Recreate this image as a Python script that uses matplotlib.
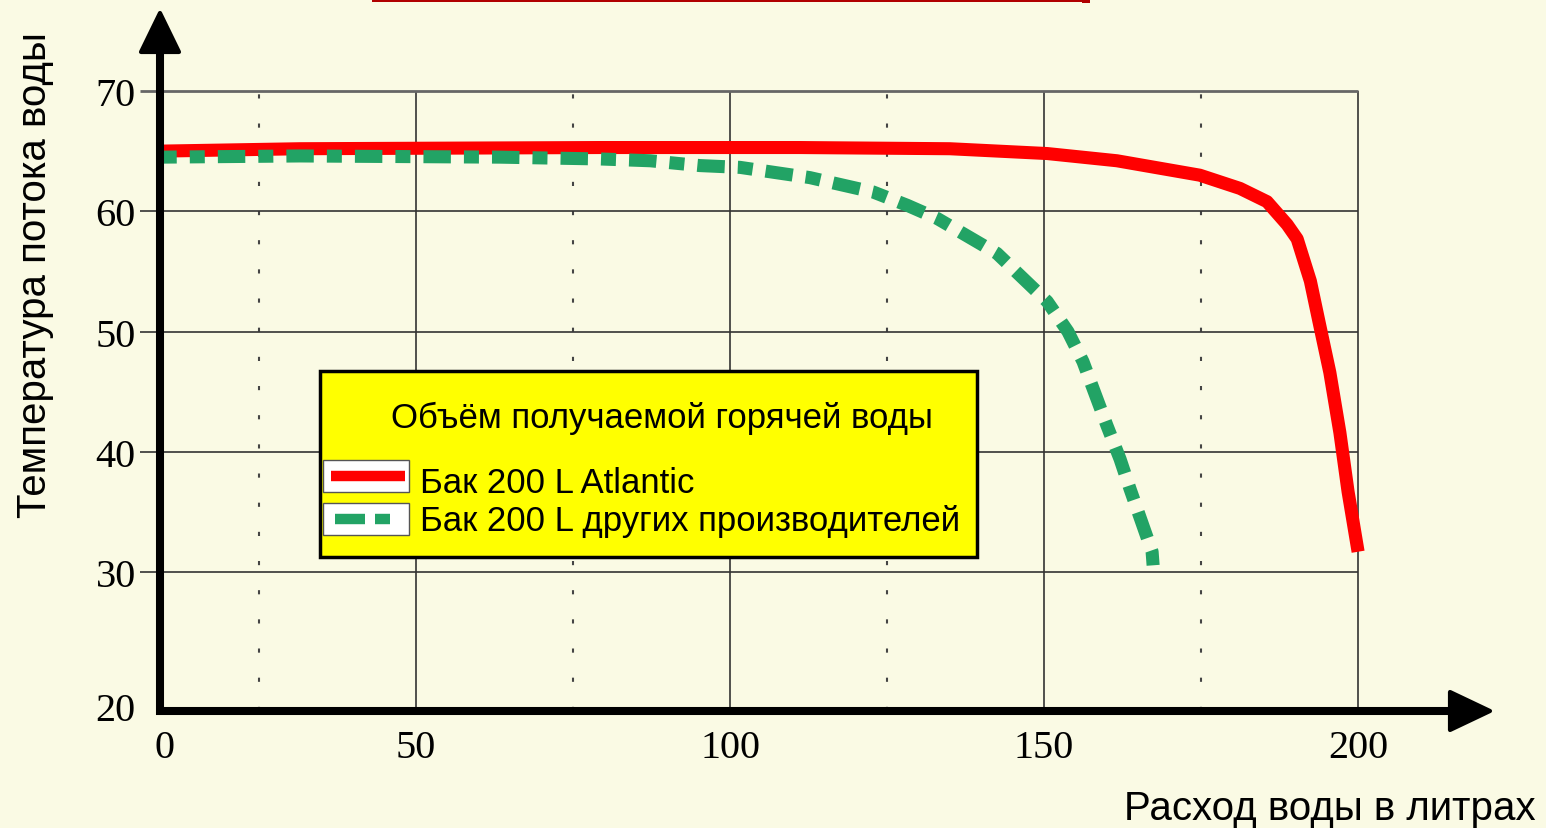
import matplotlib
matplotlib.use("Agg")
import matplotlib.pyplot as plt
from matplotlib.transforms import Affine2D
from matplotlib.patches import Polygon, Rectangle
from matplotlib.lines import Line2D

# ---------------- data ----------------
atlantic_x = [9.2, 31.5, 79.3, 111.0, 135.0, 150.5, 161.6, 174.8, 181.2, 185.5,
              188.7, 190.3, 192.4, 193.9, 195.5, 197.1, 198.4, 200.0]
atlantic_y = [65.0, 65.2, 65.3, 65.3, 65.2, 64.8, 64.2, 63.0, 61.9, 60.8,
              58.9, 57.7, 54.2, 50.5, 46.6, 41.6, 36.7, 31.7]

other_x = [9.2, 31.5, 63.4, 79.3, 87.3, 95.2, 101.6, 112.7, 122.8, 128.2, 133.0,
           142.5, 150.5, 153.8, 156.2, 160.0, 162.1, 163.7, 167.2, 167.4]
other_y = [64.5, 64.6, 64.5, 64.35, 64.2, 63.8, 63.65, 62.8, 61.6, 60.5, 59.4,
           56.5, 52.5, 50.0, 47.5, 42.2, 39.4, 36.9, 31.7, 30.3]

series_labels = ["Бак 200 L Atlantic", "Бак 200 L других производителей"]
legend_title = "Объём получаемой горячей воды"
x_label = "Расход воды в литрах"
y_label = "Температура потока воды"

x_ticks = [10.0, 50, 100, 150, 200]
x_tick_labels = ["0", "50", "100", "150", "200"]
x_grid_major = [50, 100, 150, 200]
x_grid_dotted = [25, 75, 125, 175]
y_ticks = [18.9, 30, 40, 50, 60, 70]
y_tick_labels = ["20", "30", "40", "50", "60", "70"]
y_grid = [30, 40, 50, 60]
y_top_grid = 70

# ---------------- style ----------------
BG = "#FAFAE4"
RED = "#FF0000"
GREEN = "#22A365"
W, H = 1546, 829

fig = plt.figure(figsize=(W / 100, H / 100), dpi=100, facecolor=BG)
px = Affine2D().scale(1 / W, -1 / H).translate(0, 1) + fig.transFigure

ax = fig.add_axes([160 / W, 1 - 712 / H, (1490 - 160) / W, (712 - 15) / H])
ax.set_facecolor("none")
ax.set_xlim(9.24, 221.0)
ax.set_ylim(18.46, 76.4)
for s in ax.spines.values():
    s.set_visible(False)

# grid
ax.vlines(x_grid_major, 18.46, 70, colors="#333333", lw=1.2, zorder=1)
ax.vlines(x_grid_dotted, 18.46, 70, colors="#444444", lw=1.5,
          linestyles=[(0, (2, 12))], zorder=1)
ax.hlines(y_grid, 6.05, 200, colors="#333333", lw=1.2, zorder=1, clip_on=False)
ax.hlines([y_top_grid], 6.05, 200, colors="#666666", lw=2.0, zorder=1, clip_on=False)

# series
lw = 9.4
ax.plot(atlantic_x, atlantic_y, color=RED, lw=lw, solid_capstyle="butt",
        solid_joinstyle="round", zorder=3, clip_on=False)
ax.plot(other_x, other_y, color=GREEN, lw=lw, dash_capstyle="butt",
        linestyle=(0.8, (2.1, 1.0, 1.15, 1.0)), zorder=3, clip_on=False)

# ticks
ax.set_xticks(x_ticks)
ax.set_xticklabels(x_tick_labels, family="Liberation Serif", fontsize=29)
ax.set_yticks(y_ticks)
ax.set_yticklabels(y_tick_labels, family="Liberation Serif", fontsize=29)
ax.tick_params(axis="x", length=0, pad=13)
ax.tick_params(axis="y", length=0, pad=17.5)

# axis labels
fig.text(35 / W, 1 - 275 / H, y_label, rotation=90, ha="center", va="center",
         family="Liberation Sans", fontsize=29)
fig.text(1536 / W, 1 - 820 / H, x_label, ha="right", va="baseline",
         family="Liberation Sans", fontsize=29)

# arrows (axes)
fig.add_artist(Line2D([160, 160], [716, 50], transform=px, color="black", lw=5.8,
                      solid_capstyle="butt"))
fig.add_artist(Line2D([156, 1455], [712, 712], transform=px, color="black", lw=5.8,
                      solid_capstyle="butt"))
fig.add_artist(Polygon([[160, 14], [141, 53], [179, 53]], closed=True, transform=px,
                       facecolor="black", edgecolor="black", lw=3, joinstyle="round"))
fig.add_artist(Polygon([[1490, 712], [1450, 693], [1450, 731]], closed=True, transform=px,
                       facecolor="black", edgecolor="black", lw=3, joinstyle="round"))

# red title underline at top
fig.add_artist(Rectangle((372, 0), 710, 2.5, transform=px, facecolor="#B00000",
                         edgecolor="none"))
fig.add_artist(Rectangle((1082, 0), 8, 4, transform=px, facecolor="#B00000",
                         edgecolor="none"))

# legend (manual box)
fig.add_artist(Rectangle((320, 372), 657, 186, transform=px, facecolor="#FFFF00",
                         edgecolor="black", lw=2.5, zorder=5))
fig.text(662 / W, 1 - 428 / H, legend_title, ha="center", va="baseline",
         family="Liberation Sans", fontsize=25, zorder=6)
box_centers = [477, 519.5]
baselines = [493, 531]
for i, (lab, col) in enumerate(zip(series_labels, [RED, GREEN])):
    yc = box_centers[i]
    fig.add_artist(Rectangle((323, yc - 16), 86, 32, transform=px, facecolor="white",
                             edgecolor="#555555", lw=1, zorder=6))
    if i == 0:
        fig.add_artist(Line2D([331, 405], [yc, yc], transform=px, color=col, lw=7.5,
                              solid_capstyle="butt", zorder=7))
    else:
        fig.add_artist(Line2D([335, 365], [yc, yc], transform=px, color=col, lw=7.5,
                              solid_capstyle="butt", zorder=7))
        fig.add_artist(Line2D([375, 390], [yc, yc], transform=px, color=col, lw=7.5,
                              solid_capstyle="butt", zorder=7))
    fig.text(420 / W, 1 - baselines[i] / H, lab, ha="left", va="baseline",
             family="Liberation Sans", fontsize=25, zorder=7)

fig.savefig("out.png", dpi=100, facecolor=BG)
